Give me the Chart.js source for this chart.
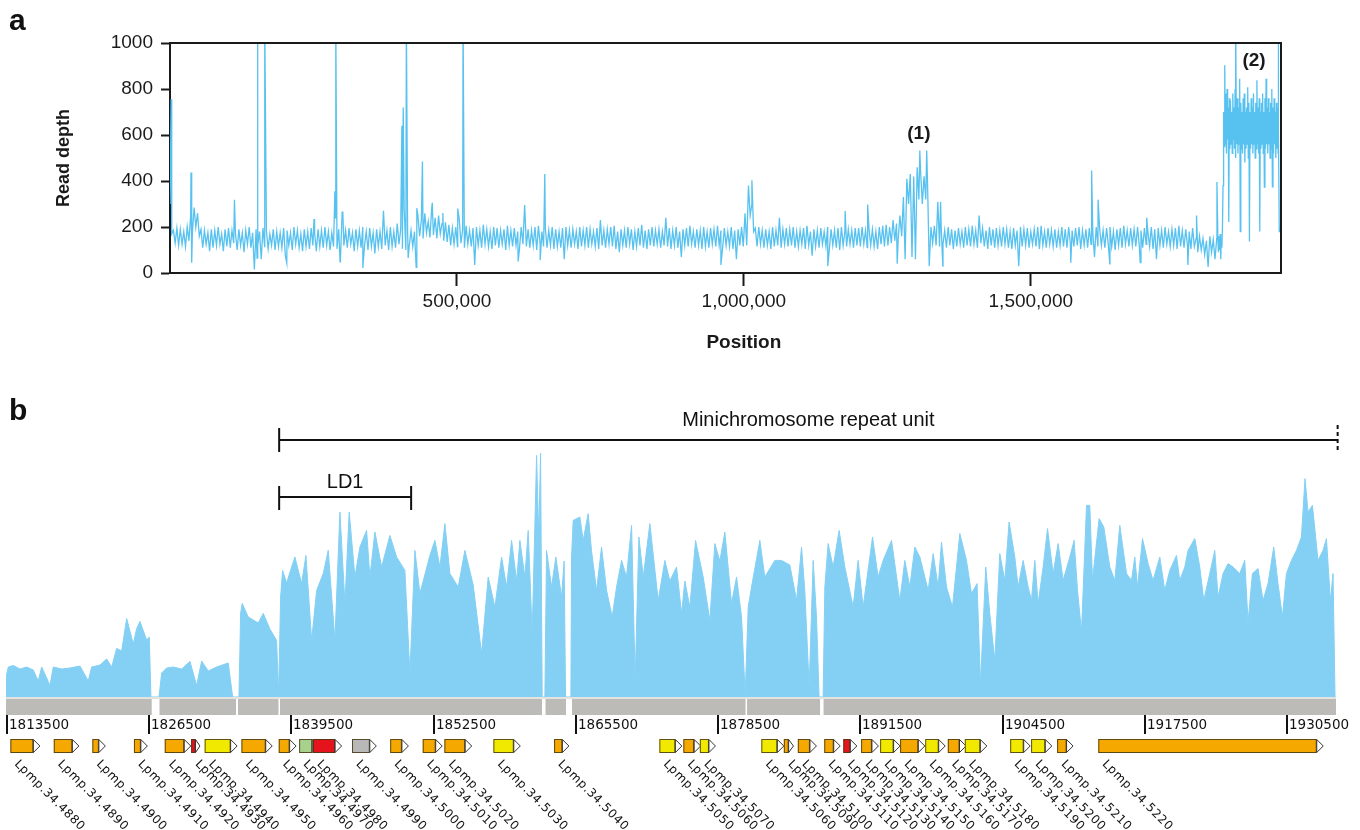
<!DOCTYPE html>
<html>
<head>
<meta charset="utf-8">
<title>Read depth along chromosome 34</title>
<script src="https://cdn.jsdelivr.net/npm/chart.js@4.4.1/dist/chart.umd.min.js"></script>
<style>
    body { margin: 0; background: #fff; }
    #page { position: relative; width: 1360px; height: 830px; overflow: hidden; }
    #page canvas { position: absolute; left: 0; }
    .panel-tag { position: absolute; font: bold 30px "Liberation Sans", Arial, sans-serif; color: #111; line-height: 34px; }
</style>
</head>
<body>
<div id="page">
    <canvas id="depth-chart" width="1360" height="360" style="top:0"></canvas>
    <canvas id="region-chart" width="1360" height="435" style="top:395px"></canvas>
    <div class="panel-tag" style="left:9px;top:3px">a</div>
    <div class="panel-tag" style="left:9px;top:393px">b</div>
</div>
<script>
// ============================================
// Panel a data - whole chromosome read depth
// ============================================

// The trace is very noisy, so it is kept as the top and bottom of the
// noise in each 6 kb bin: tops at the bin start, bottoms half a bin later.
const BIN = 6000;
const HALF_BIN = 3000;
const depthHi = [
    300, 185, 195, 190, 180, 200, 250, 285, 260, 190, 185, 175, 190, 185, 200, 170, 190, 195, 185, 175,
    190, 175, 185, 200, 175, 190, 180, 195, 185, 170, 190, 180, 175, 195, 185, 175, 200, 185, 170, 190,
    180, 195, 175, 190, 185, 200, 180, 175, 240, 190, 265, 185, 195, 175, 190, 185, 200, 180, 195, 175,
    190, 180, 270, 185, 200, 180, 215, 190, 285, 195, 185, 180, 250, 230, 260, 225, 280, 240, 250, 215,
    220, 210, 195, 200, 235, 190, 205, 185, 195, 200, 185, 210, 190, 180, 200, 195, 185, 190, 205, 185,
    195, 180, 200, 295, 190, 185, 200, 205, 180, 195, 185, 200, 190, 180, 195, 200, 185, 190, 180, 200,
    185, 200, 190, 180, 195, 230, 185, 190, 200, 205, 180, 190, 185, 200, 190, 180, 195, 210, 185, 190,
    200, 185, 190, 180, 240, 195, 185, 200, 180, 190, 195, 205, 180, 190, 185, 200, 180, 195, 190, 205,
    185, 195, 180, 200, 185, 190, 200, 260, 380, 300, 195, 200, 185, 190, 180, 200, 185, 240, 190, 195,
    190, 200, 180, 185, 195, 205, 180, 190, 185, 195, 180, 200, 190, 185, 195, 200, 180, 190, 185, 195,
    195, 200, 185, 195, 190, 180, 200, 205, 210, 200, 230, 215, 250, 330, 410, 430, 420, 460, 440, 420,
    400, 200, 205, 310, 190, 185, 200, 190, 185, 195, 180, 200, 190, 205, 185, 250, 195, 185, 200, 190,
    195, 185, 200, 190, 180, 195, 185, 200, 190, 195, 180, 190, 200, 205, 180, 195, 185, 190, 180, 200,
    190, 200, 185, 195, 200, 185, 190, 195, 180, 200, 190, 185, 195, 200, 180, 190, 195, 205, 185, 195,
    190, 200, 185, 195, 180, 200, 190, 195, 185, 200, 180, 190, 195, 205, 185, 190, 180, 195, 150, 160,
    150, 140, 160, 145, 150
];
const depthLo = [
    170, 130, 120, 125, 115, 140, 175, 200, 160, 110, 125, 95, 110, 120, 125, 95, 115, 110, 130, 100,
    120, 90, 125, 110, 15, 120, 60, 115, 105, 120, 100, 115, 110, 75, 120, 100, 125, 110, 95, 115,
    105, 120, 95, 115, 110, 120, 100, 115, 105, 60, 120, 110, 125, 95, 115, 110, 120, 100, 115, 85,
    115, 105, 120, 100, 115, 110, 125, 105, 100, 120, 115, 25, 160, 150, 175, 155, 165, 150, 170, 140,
    135, 120, 125, 115, 130, 110, 125, 115, 35, 120, 110, 125, 115, 105, 120, 110, 125, 100, 120, 115,
    120, 105, 125, 115, 110, 120, 100, 125, 115, 110, 120, 105, 115, 110, 60, 120, 110, 125, 105, 115,
    120, 110, 125, 115, 105, 120, 110, 125, 115, 105, 90, 120, 110, 125, 100, 115, 120, 110, 105, 120,
    115, 125, 110, 120, 115, 105, 120, 110, 70, 120, 115, 125, 110, 120, 105, 115, 110, 125, 115, 120,
    110, 120, 115, 105, 60, 120, 115, 120, 250, 180, 115, 125, 110, 120, 105, 115, 120, 110, 125, 115,
    120, 110, 115, 125, 105, 120, 75, 115, 110, 125, 115, 105, 120, 110, 100, 120, 115, 125, 110, 120,
    115, 125, 110, 120, 115, 105, 125, 115, 120, 130, 140, 150, 160, 60, 300, 70, 60, 320, 300, 320,
    30, 130, 120, 115, 125, 110, 120, 105, 115, 125, 110, 120, 115, 125, 110, 130, 115, 105, 120, 110,
    120, 115, 125, 110, 105, 120, 30, 115, 120, 110, 125, 115, 105, 120, 110, 125, 115, 110, 120, 115,
    110, 125, 115, 120, 105, 120, 110, 125, 70, 115, 120, 110, 125, 115, 100, 120, 110, 125, 115, 120,
    115, 120, 110, 125, 115, 105, 60, 120, 110, 125, 115, 120, 105, 115, 110, 120, 105, 115, 90, 100,
    80, 26, 90, 60
];

// the amplified end of the chromosome, 2 kb bins
const END_START = 1826000;
const END_BIN = 2000;
const END_HALF = 1000;
const endHi = [
    150, 160, 170, 150, 200, 700, 903, 780, 800, 720, 760, 750, 700, 780, 720, 800, 700, 760, 720, 845,
    740, 700, 760, 780, 700, 720, 808, 740, 700, 760, 720, 780, 700, 740, 838, 720, 760, 700, 740, 780,
    700, 760, 845, 720, 760, 700, 740, 800, 720, 760, 700, 740, 720, 600, 200
];
const endLo = [
    90, 100, 60, 110, 380, 550, 560, 520, 580, 222, 540, 560, 520, 580, 540, 500, 560, 520, 560, 180,
    540, 520, 560, 480, 540, 560, 500, 137, 540, 560, 520, 560, 500, 540, 560, 520, 180, 540, 560, 520,
    374, 540, 560, 520, 560, 500, 540, 375, 520, 560, 500, 540, 520, 180
];

// narrow spikes and drop-outs between bins
const spikePos = [2000, 36600, 112300, 152700, 165100, 287300, 288900, 404100, 406400, 411900,
    439900, 457000, 501400, 510700, 618200, 653100, 1014000, 1215700, 1306600, 1318600,
    1342800, 1606000, 1617300, 1824400, 1857000, 1931100,
    37800, 151700, 203500, 251000, 296400, 301100, 336000, 415000, 430100, 475400,
    606700, 645100, 960000, 1146200, 1176500, 1267200, 1346700, 1569700, 1637700, 1690700,
    1702000, 1773800, 1788800];
const spikeVal = [755, 437, 318, 1100, 1100, 355, 1100, 640, 720, 1100,
    485, 305, 280, 1100, 295, 430, 403, 298, 533, 533,
    310, 446, 319, 396, 1100, 1100,
    45, 65, 43, 235, 49, 267, 22, 65, 282, 261,
    50, 56, 35, 30, 270, 40, 30, 45, 40, 45,
    240, 35, 250];

const xTicksA = [500000, 1000000, 1500000];
const yTicksA = [0, 200, 400, 600, 800, 1000];

const peakNames = ['(1)', '(2)'];
const peakPos = [1305000, 1889000];
const peakDepth = [604, 922];

// ============================================
// Panel b data - last ~120 kb, coverage + genes
// ============================================

const covPos = [
    1813420, 1813630, 1814085, 1814697, 1815309, 1815912, 1816369, 1816680, 1817438, 1817740,
    1818507, 1819265, 1820179, 1820937, 1821248, 1822006, 1822618, 1823075, 1823532, 1823989,
    1824446, 1825048, 1825350, 1825660, 1826272, 1826510, 1826665, 1827400, 1827643, 1828100,
    1828703, 1829471, 1830228, 1830841, 1831297, 1831900, 1832667, 1833728, 1834129, 1834705,
    1834860, 1835006, 1835555, 1836012, 1836470, 1836926, 1837537, 1838148, 1838330, 1838514,
    1838696, 1839060, 1839520, 1839821, 1840433, 1840826, 1841347, 1841804, 1842407, 1842864,
    1843475, 1843932, 1844389, 1844780, 1845303, 1845760, 1846369, 1846673, 1847130, 1847742,
    1848500, 1849112, 1849870, 1850328, 1850784, 1851241, 1852155, 1852612, 1853068, 1853525,
    1853982, 1854742, 1855352, 1856112, 1856879, 1857481, 1858093, 1858705, 1859162, 1859619,
    1860076, 1860377, 1860834, 1861136, 1861501, 1861903, 1862100, 1862268, 1862414, 1862661,
    1862814, 1863271, 1863663, 1864185, 1864422, 1864550, 1865036, 1865099, 1865246, 1865859,
    1866160, 1866617, 1866920, 1867383, 1867840, 1868300, 1868809, 1869210, 1869668, 1870120,
    1870582, 1870911, 1871249, 1871650, 1872254, 1873015, 1873624, 1874080, 1874692, 1875149,
    1875450, 1875908, 1876429, 1877126, 1877736, 1878193, 1878650, 1879106, 1879717, 1880175,
    1880632, 1880962, 1881240, 1881545, 1882304, 1882760, 1883674, 1884280, 1885044, 1885657,
    1886113, 1886415, 1886810, 1887175, 1887481, 1887720, 1888085, 1888242, 1888543, 1889000,
    1889548, 1890070, 1890827, 1891285, 1891743, 1892600, 1893110, 1893570, 1894335, 1895094,
    1895550, 1896008, 1896465, 1896922, 1897683, 1898140, 1898597, 1898901, 1899358, 1899906,
    1900576, 1901185, 1901642, 1902153, 1902464, 1902948, 1903314, 1903771, 1904227, 1904684,
    1905080, 1905600, 1905905, 1906362, 1906818, 1907124, 1907428, 1907733, 1908189, 1908591,
    1909103, 1909559, 1910016, 1910627, 1911020, 1911331, 1911696, 1912153, 1912454, 1912701,
    1913303, 1913733, 1914281, 1914738, 1915195, 1915807, 1916264, 1916565, 1916812, 1917269,
    1917781, 1918238, 1918848, 1919305, 1919762, 1920374, 1920675, 1921132, 1921433, 1922045,
    1922502, 1922867, 1923416, 1923872, 1924174, 1924630, 1925087, 1925544, 1926154, 1926611,
    1926913, 1927314, 1927826, 1928283, 1928739, 1929260, 1929653, 1930055, 1930420, 1930877,
    1931334, 1931791, 1932120, 1932394, 1932796, 1933308, 1933765, 1934076, 1934441, 1934679,
    1934862
];
const covDepth = [
    100, 150, 158, 140, 150, 135, 80, 150, 58, 150,
    140, 145, 155, 80, 150, 160, 190, 150, 243, 230,
    393, 265, 340, 378, 285, 300, 0, 0, 120, 145,
    150, 140, 178, 58, 180, 130, 150, 170, 0, 0,
    420, 468, 400, 385, 370, 418, 340, 283, 10, 500,
    633, 570, 650, 700, 567, 708, 283, 533, 617, 733,
    283, 925, 467, 925, 600, 750, 833, 600, 825, 650,
    808, 700, 633, 117, 733, 517, 708, 783, 650, 867,
    617, 550, 733, 560, 217, 600, 450, 700, 550, 783,
    580, 783, 600, 833, 317, 1208, 800, 1220, 0, 0,
    733, 550, 700, 500, 680, 0, 0, 700, 883, 900,
    783, 917, 733, 533, 750, 533, 400, 550, 683, 600,
    858, 83, 800, 600, 867, 483, 683, 580, 650, 417,
    580, 450, 783, 600, 383, 767, 680, 825, 467, 600,
    400, 10, 450, 550, 783, 600, 683, 683, 660, 483,
    750, 530, 50, 683, 400, 0, 0, 550, 767, 650,
    833, 650, 450, 683, 450, 800, 600, 683, 783, 483,
    683, 550, 750, 700, 533, 717, 550, 775, 550, 450,
    817, 683, 517, 567, 67, 650, 417, 183, 717, 583,
    875, 700, 550, 683, 550, 483, 683, 467, 650, 842,
    617, 767, 583, 700, 783, 533, 325, 958, 958, 583,
    892, 850, 650, 583, 858, 617, 583, 700, 550, 792,
    667, 583, 700, 533, 633, 708, 583, 650, 733, 792,
    650, 483, 617, 733, 500, 617, 667, 650, 617, 683,
    375, 617, 642, 483, 567, 750, 567, 400, 617, 683,
    733, 800, 1092, 925, 958, 683, 733, 792, 480, 617,
    0
];

// stretches of the reference with mapped reads (grey track)
const trackStart = [1813420, 1827447, 1834620, 1838458, 1862720, 1865140, 1881133, 1888124];
const trackEnd = [1826735, 1834438, 1838321, 1862400, 1864592, 1880996, 1887804, 1934950];

const xTicksB = [1813500, 1826500, 1839500, 1852500, 1865500, 1878500, 1891500, 1904500, 1917500, 1930500];

const geneStart = [1813820, 1817785, 1821311, 1825112, 1827926, 1830338, 1831571, 1834933, 1838341, 1840204,
    1841474, 1845037, 1848527, 1851497, 1853479, 1857956, 1863501, 1873122, 1875314, 1876822,
    1882440, 1884496, 1885775, 1888187, 1889932, 1891558, 1893294, 1895121, 1897414, 1899479,
    1901032, 1905180, 1907089, 1909465, 1913229];
const geneEnd = [1816515, 1820078, 1822499, 1826336, 1830301, 1831142, 1834540, 1837747, 1839930, 1842000,
    1844087, 1847257, 1850190, 1853278, 1855973, 1860413, 1864853, 1875177, 1876895, 1878247,
    1884496, 1885373, 1887474, 1889648, 1891165, 1893139, 1895121, 1897378, 1899241, 1901142,
    1903042, 1907007, 1908980, 1910926, 1933785];
const geneClass = ['O', 'O', 'O', 'O', 'O', 'R', 'Y', 'O', 'O', 'G',
    'R', 'S', 'O', 'O', 'O', 'Y', 'O', 'Y', 'O', 'Y',
    'Y', 'O', 'O', 'O', 'R', 'O', 'Y', 'O', 'Y', 'O',
    'Y', 'Y', 'Y', 'O', 'O'];
const geneLabel = ['Lpmp.34.4880', 'Lpmp.34.4890', 'Lpmp.34.4900', 'Lpmp.34.4910', 'Lpmp.34.4920',
    'Lpmp.34.4930', 'Lpmp.34.4940', 'Lpmp.34.4950', 'Lpmp.34.4960', 'Lpmp.34.4970',
    'Lpmp.34.4980', 'Lpmp.34.4990', 'Lpmp.34.5000', 'Lpmp.34.5010', 'Lpmp.34.5020',
    'Lpmp.34.5030', 'Lpmp.34.5040', 'Lpmp.34.5050', 'Lpmp.34.5060', 'Lpmp.34.5070',
    'Lpmp.34.5060', 'Lpmp.34.5090', 'Lpmp.34.5100', 'Lpmp.34.5110', 'Lpmp.34.5120',
    'Lpmp.34.5130', 'Lpmp.34.5140', 'Lpmp.34.5150', 'Lpmp.34.5160', 'Lpmp.34.5170',
    'Lpmp.34.5180', 'Lpmp.34.5190', 'Lpmp.34.5200', 'Lpmp.34.5210', 'Lpmp.34.5220'];

const repeatUnit = [1838380, 1935100];
const ld1Region = [1838380, 1850440];

// ============================================
// Styling
// ============================================

const INK = '#1a1a1a';
const SANS = '"Liberation Sans", Arial, sans-serif';
const TRACE = '#57C2F0';
const GENE_COLORS = { O: '#F5A800', Y: '#F2E900', R: '#E5141C', G: '#A8D18C', S: '#B8B8B8' };

Chart.defaults.font.family = SANS;
Chart.defaults.color = INK;

// ============================================
// Panel a
// ============================================

function pushBins(pts, start, step, values) {
    for (let i = 0; i < values.length; i++) {
        pts.push({ x: start + i * step, y: values[i] });
    }
}

function buildDepthPoints() {
    const pts = [];
    pushBins(pts, 0, BIN, depthHi);
    pushBins(pts, HALF_BIN, BIN, depthLo);
    pushBins(pts, END_START, END_BIN, endHi);
    pushBins(pts, END_START + END_HALF, END_BIN, endLo);
    for (let i = 0; i < spikePos.length; i++) {
        pts.push({ x: spikePos[i], y: spikeVal[i] });
    }
    pts.sort(function(a, b) { return a.x - b.x; });
    return pts;
}

function zipPoints(xs, ys) {
    const pts = [];
    for (let i = 0; i < xs.length; i++) pts.push({ x: xs[i], y: ys[i] });
    return pts;
}

// box round the plot, peak labels and the x title
const depthExtras = {
    id: 'depthExtras',
    afterDraw(chart) {
        const ctx = chart.ctx;
        const area = chart.chartArea;
        const x = chart.scales.x;
        const y = chart.scales.y;
        ctx.save();
        ctx.strokeStyle = INK;
        ctx.lineWidth = 2;
        ctx.beginPath();
        ctx.moveTo(area.left, area.top);
        ctx.lineTo(area.right, area.top);
        ctx.lineTo(area.right, area.bottom);
        ctx.stroke();

        ctx.fillStyle = INK;
        ctx.textAlign = 'center';
        ctx.textBaseline = 'middle';
        ctx.font = 'bold 19px ' + SANS;
        for (let i = 0; i < peakNames.length; i++) {
            ctx.fillText(peakNames[i], x.getPixelForValue(peakPos[i]), y.getPixelForValue(peakDepth[i]));
        }
        ctx.fillText('Position', x.getPixelForValue(1000000), 343);
        ctx.restore();
    }
};

function renderDepthChart() {
    const ctx = document.getElementById('depth-chart').getContext('2d');
    new Chart(ctx, {
        type: 'line',
        data: {
            datasets: [{
                data: buildDepthPoints(),
                borderColor: TRACE,
                borderWidth: 1.3,
                pointRadius: 0,
                tension: 0,
                fill: false
            }]
        },
        options: {
            responsive: false,
            animation: false,
            layout: { padding: { left: 53, right: 79, top: 43, bottom: 0 } },
            plugins: { legend: { display: false }, tooltip: { enabled: false } },
            scales: {
                x: {
                    type: 'linear',
                    min: 0,
                    max: 1936000,
                    afterBuildTicks: function(s) { s.ticks = xTicksA.map(function(v) { return { value: v }; }); },
                    afterFit: function(s) { s.height = 87; },
                    ticks: {
                        callback: function(v) { return v.toLocaleString('en-US'); },
                        font: { size: 19 },
                        maxRotation: 0,
                        padding: 4
                    },
                    grid: { drawOnChartArea: false, tickLength: 13, tickWidth: 2, tickColor: INK },
                    border: { color: INK, width: 2 }
                },
                y: {
                    min: 0,
                    max: 1000,
                    afterBuildTicks: function(s) { s.ticks = yTicksA.map(function(v) { return { value: v }; }); },
                    afterFit: function(s) { s.width = 117; },
                    ticks: {
                        callback: function(v) { return String(v); },
                        font: { size: 19 },
                        padding: 8
                    },
                    grid: { drawOnChartArea: false, tickLength: 9, tickWidth: 2, tickColor: INK },
                    border: { color: INK, width: 2 },
                    title: {
                        display: true,
                        text: 'Read depth',
                        font: { size: 18, weight: 'bold' },
                        padding: { top: 0, bottom: 0 }
                    }
                }
            }
        },
        plugins: [depthExtras]
    });
}

// ============================================
// Panel b
// ============================================

// grey mapped track, position ruler, gene arrows and the bracket annotations
const regionExtras = {
    id: 'regionExtras',
    afterDraw(chart) {
        const ctx = chart.ctx;
        const area = chart.chartArea;
        const x = chart.scales.x;
        const px = function(v) { return x.getPixelForValue(v); };
        const base = area.bottom;
        ctx.save();

        // thin light strip + grey track
        ctx.fillStyle = '#E3E3E1';
        ctx.fillRect(area.left, base, area.right - area.left, 2);
        ctx.fillStyle = '#BDBBB7';
        for (let i = 0; i < trackStart.length; i++) {
            ctx.fillRect(px(trackStart[i]), base + 2, px(trackEnd[i]) - px(trackStart[i]), 16);
        }

        // ruler
        ctx.fillStyle = '#111';
        ctx.font = '13.5px "DejaVu Sans", sans-serif';
        ctx.textAlign = 'left';
        ctx.textBaseline = 'middle';
        for (let i = 0; i < xTicksB.length; i++) {
            const tx = Math.round(px(xTicksB[i]));
            ctx.fillRect(tx - 1, base + 18, 2, 19);
            ctx.fillText(String(xTicksB[i]), tx + 2, base + 28);
        }

        // genes
        const gTop = base + 42;
        const gH = 14;
        for (let i = 0; i < geneStart.length; i++) {
            const x1 = px(geneStart[i]);
            const x2 = px(geneEnd[i]);
            const tip = Math.min(6.5, (x2 - x1) * 0.5);
            ctx.fillStyle = GENE_COLORS[geneClass[i]];
            ctx.fillRect(x1, gTop, x2 - tip - x1, gH);
            ctx.strokeStyle = 'rgba(70,55,20,0.85)';
            ctx.lineWidth = 1;
            ctx.strokeRect(x1 + 0.5, gTop + 0.5, x2 - tip - x1 - 1, gH - 1);
            ctx.beginPath();
            ctx.moveTo(x2 - tip, gTop + 0.5);
            ctx.lineTo(x2, gTop + gH / 2);
            ctx.lineTo(x2 - tip, gTop + gH - 0.5);
            ctx.closePath();
            ctx.fillStyle = '#fff';
            ctx.fill();
            ctx.strokeStyle = '#333';
            ctx.stroke();
        }

        // gene names, rotated
        ctx.fillStyle = '#111';
        ctx.font = '12px "DejaVu Sans", sans-serif';
        ctx.textBaseline = 'top';
        ctx.letterSpacing = '0.6px';
        for (let i = 0; i < geneStart.length; i++) {
            ctx.save();
            ctx.translate(px(geneStart[i]) + 10, base + 61);
            ctx.rotate(Math.PI / 4);
            ctx.fillText(geneLabel[i], 0, 0);
            ctx.restore();
        }
        ctx.letterSpacing = '0px';

        // minichromosome repeat unit bracket
        const top = area.top;
        const r1 = px(repeatUnit[0]);
        const r2 = px(repeatUnit[1]);
        ctx.strokeStyle = '#111';
        ctx.lineWidth = 2;
        ctx.beginPath();
        ctx.moveTo(r1, top + 3);
        ctx.lineTo(r2, top + 3);
        ctx.moveTo(r1, top - 9);
        ctx.lineTo(r1, top + 15);
        ctx.stroke();
        ctx.setLineDash([4, 3]);
        ctx.beginPath();
        ctx.moveTo(r2, top - 12);
        ctx.lineTo(r2, top + 15);
        ctx.stroke();
        ctx.setLineDash([]);

        // LD1 bracket
        const l1 = px(ld1Region[0]);
        const l2 = px(ld1Region[1]);
        ctx.beginPath();
        ctx.moveTo(l1, top + 60);
        ctx.lineTo(l2, top + 60);
        ctx.moveTo(l1, top + 49);
        ctx.lineTo(l1, top + 73);
        ctx.moveTo(l2, top + 49);
        ctx.lineTo(l2, top + 73);
        ctx.stroke();

        ctx.font = '20px ' + SANS;
        ctx.textAlign = 'center';
        ctx.textBaseline = 'middle';
        ctx.fillText('Minichromosome repeat unit', (r1 + r2) / 2, top - 17);
        ctx.fillText('LD1', (l1 + l2) / 2, top + 45);
        ctx.restore();
    }
};

function renderRegionChart() {
    const ctx = document.getElementById('region-chart').getContext('2d');
    new Chart(ctx, {
        type: 'line',
        data: {
            datasets: [{
                data: zipPoints(covPos, covDepth),
                borderColor: '#83D0F4',
                backgroundColor: '#83D0F4',
                borderWidth: 1,
                pointRadius: 0,
                tension: 0,
                fill: 'origin'
            }]
        },
        options: {
            responsive: false,
            animation: false,
            layout: { padding: { left: 6, right: 24, top: 42, bottom: 133 } },
            plugins: { legend: { display: false }, tooltip: { enabled: false } },
            scales: {
                x: { type: 'linear', display: false, min: 1813420, max: 1934950 },
                y: { display: false, min: 0, max: 1300 }
            }
        },
        plugins: [regionExtras]
    });
}

renderDepthChart();
renderRegionChart();
</script>
</body>
</html>
